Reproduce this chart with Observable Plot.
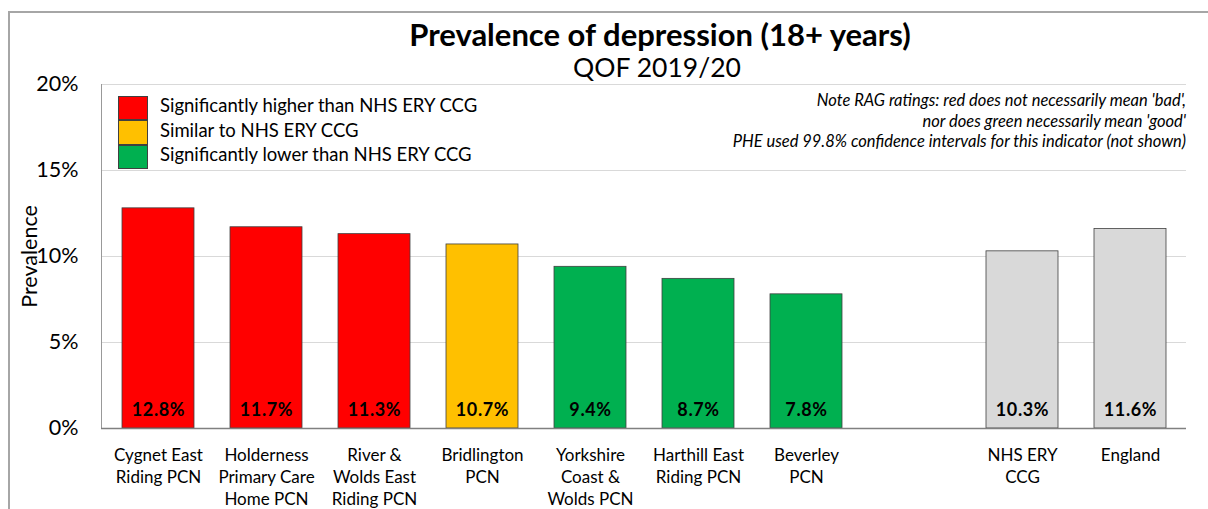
<!DOCTYPE html>
<html><head><meta charset="utf-8">
<script src="https://cdn.jsdelivr.net/npm/d3@7"></script>
<script src="https://cdn.jsdelivr.net/npm/@observablehq/plot@0.6"></script>
<style>
body{margin:0;background:#fff;font-family:Lato,"Open Sans",sans-serif;color:#000;}
#wrap{position:relative;width:1208px;height:509px;overflow:hidden;}
#frame{position:absolute;left:8px;top:11px;width:1230px;height:530px;border-top:2px solid #a6a6a6;border-left:2px solid #a6a6a6;}
#chart{position:absolute;left:0;top:0;}
#title{position:absolute;left:0;width:1320px;top:15px;text-align:center;font-size:31px;font-weight:bold;}
#subtitle{position:absolute;left:0;width:1314px;top:51px;text-align:center;font-size:26.5px;}
#legend{position:absolute;left:118px;top:96px;}
.lg{display:flex;align-items:center;height:24.4px;}
.sw{width:30px;height:24.4px;border:1px solid #404040;box-sizing:border-box;margin-right:12px;}
.lt{font-size:18.5px;position:relative;top:-3px;}
#note{position:absolute;right:22px;top:90px;text-align:right;font-style:italic;font-size:16.5px;line-height:20.5px;}
</style></head>
<body>
<div id="wrap">
<div id="frame"></div>
<div id="chart"></div>
<div id="title"></div>
<div id="subtitle"></div>
<div id="legend"></div>
<div id="note"></div>
</div>
<script>
const titleText = "Prevalence of depression (18+ years)";
const subtitleText = "QOF 2019/20";
const categories = ["Cygnet East\nRiding PCN", "Holderness\nPrimary Care\nHome PCN", "River &\nWolds East\nRiding PCN", "Bridlington\nPCN", "Yorkshire\nCoast &\nWolds PCN", "Harthill East\nRiding PCN", "Beverley\nPCN", "NHS ERY\nCCG", "England"];
const values = [12.8, 11.7, 11.3, 10.7, 9.4, 8.7, 7.8, 10.3, 11.6];
const ratings = ["higher", "higher", "higher", "similar", "lower", "lower", "lower", "benchmark", "benchmark"];
const ratingKeys = ["higher", "similar", "lower", "benchmark"];
const ratingLabels = ["Significantly higher than NHS ERY CCG", "Similar to NHS ERY CCG", "Significantly lower than NHS ERY CCG"];
const ratingColors = ["#FF0000", "#FFC000", "#00B050", "#D9D9D9"];
const yTicks = [0, 5, 10, 15, 20];
const noteLines = ["Note RAG ratings: red does not necessarily mean 'bad',", "nor does green necessarily mean 'good'", "PHE used 99.8% confidence intervals for this indicator (not shown)"];

const spacer = " ";
const xDomain = [...categories.slice(0, 7), spacer, ...categories.slice(7)];
const data = categories.map((c, i) => ({cat: c, value: values[i], rating: ratings[i]}));

const chart = Plot.plot({
  width: 1208, height: 509,
  marginTop: 84, marginBottom: 81, marginLeft: 101, marginRight: 22,
  style: {fontFamily: "Lato, 'Open Sans', sans-serif", color: "#000", background: "transparent", overflow: "visible"},
  x: {domain: xDomain, paddingInner: 0.336, paddingOuter: 0.168, label: null},
  y: {domain: [0, 20], label: null},
  color: {domain: ratingKeys, range: ratingColors},
  marks: [
    Plot.gridY(yTicks.filter(d => d > 0), {stroke: "#d9d9d9", strokeOpacity: 1, strokeWidth: 1}),
    Plot.frame({anchor: "left", stroke: "#999"}),
    Plot.barY(data, {x: "cat", y: "value", fill: "rating", stroke: "#404040", strokeWidth: 0.8}),
    Plot.ruleY([0], {stroke: "#808080", strokeWidth: 1.5}),
    Plot.text(data, {x: "cat", y: 0, text: d => d.value.toFixed(1) + "%", dy: -18, fontWeight: "bold", fontSize: 18, fill: "#000", style: "letter-spacing:0.6px"}),
    Plot.axisX({tickSize: 0, tickPadding: 17, fontSize: 17, lineHeight: 1.3, label: null}),
    Plot.axisY({ticks: yTicks, tickSize: 0, tickPadding: 23, tickFormat: d => d + "%", fontSize: 21.5, label: null}),
    Plot.text(["Prevalence"], {frameAnchor: "left", textAnchor: "middle", dx: -71, rotate: -90, fontSize: 21.5, fill: "#000"})
  ]
});
chart.querySelectorAll("text").forEach(t => { if (/^\d+\.\d%$/.test(t.textContent)) t.style.letterSpacing = "0.6px"; });
document.getElementById("chart").append(chart);
document.getElementById("title").textContent = titleText;
document.getElementById("subtitle").textContent = subtitleText;
const lg = document.getElementById("legend");
ratingLabels.forEach((t, i) => {
  const row = document.createElement("div"); row.className = "lg";
  const sw = document.createElement("div"); sw.className = "sw"; sw.style.background = ratingColors[i];
  const tx = document.createElement("div"); tx.className = "lt"; tx.textContent = t;
  row.append(sw, tx); lg.append(row);
});
const note = document.getElementById("note");
noteLines.forEach(t => { const d = document.createElement("div"); d.textContent = t; note.append(d); });
</script>
</body></html>
